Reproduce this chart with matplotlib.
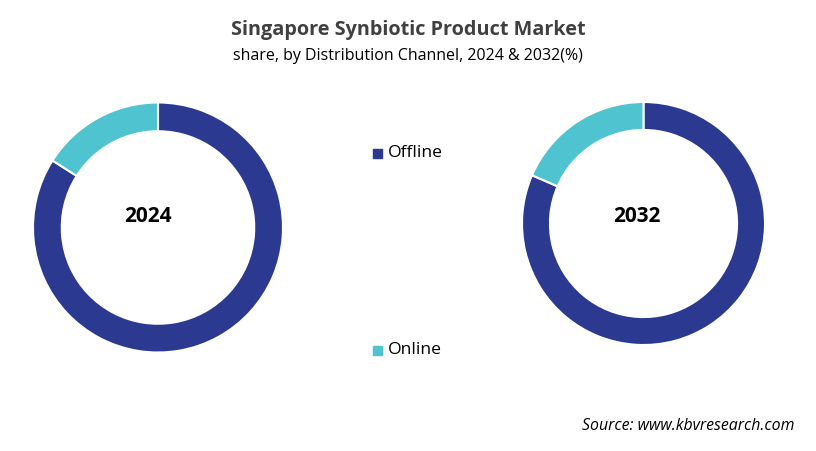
import matplotlib.pyplot as plt

# data (%)
channels = ["Offline", "Online"]
share_2024 = [84.0, 16.0]
share_2032 = [81.5, 18.5]
years = ["2024", "2032"]
colors = ["#2B3990", "#4FC3CF"]

W, H = 816, 451
fig = plt.figure(figsize=(W / 100, H / 100), dpi=100)
plt.rcParams['font.family'] = ['Open Sans', 'DejaVu Sans']


def donut(cx, cy, r, vals, label, dx, dy):
    ax = fig.add_axes([(cx - r) / W, (H - cy - r) / H, 2 * r / W, 2 * r / H])
    wedges, _ = ax.pie(vals, colors=colors, startangle=90, counterclock=False,
                       radius=1, wedgeprops=dict(width=0.23, edgecolor='white', linewidth=1.5))
    ax.set_xlim(-1, 1)
    ax.set_ylim(-1, 1)
    ax.text(dx, dy, label, ha='center', va='center', fontsize=15, fontweight='bold', color='black')
    return wedges


w1 = donut(158, 227.5, 125, share_2024, years[0], -0.08, 0.09)
w2 = donut(643.5, 223.5, 121.5, share_2032, years[1], -0.055, 0.06)

fig.text(0.5, 1 - 30 / H, "Singapore Synbiotic Product Market", ha='center', va='center',
         fontsize=14.3, fontweight='bold', color='#404040')
fig.text(0.5, 1 - 56 / H, "share, by Distribution Channel, 2024 & 2032(%)", ha='center', va='center',
         fontsize=11.5, color='black')

# legend entries
for (y, name, c) in [(153, channels[0], colors[0]), (350, channels[1], colors[1])]:
    fig.patches.append(plt.Rectangle((373 / W, 1 - (y + 4.5) / H), 9 / W, 9 / H,
                                     transform=fig.transFigure, color=c))
    fig.text(388 / W, 1 - y / H, name, ha='left', va='center', fontsize=12.6, color='black')

fig.text(795 / W, 1 - 426 / H, "Source: www.kbvresearch.com", ha='right', va='center',
         fontsize=11.4, style='italic', color='black')

fig.savefig("out.png", dpi=100, facecolor='white')
